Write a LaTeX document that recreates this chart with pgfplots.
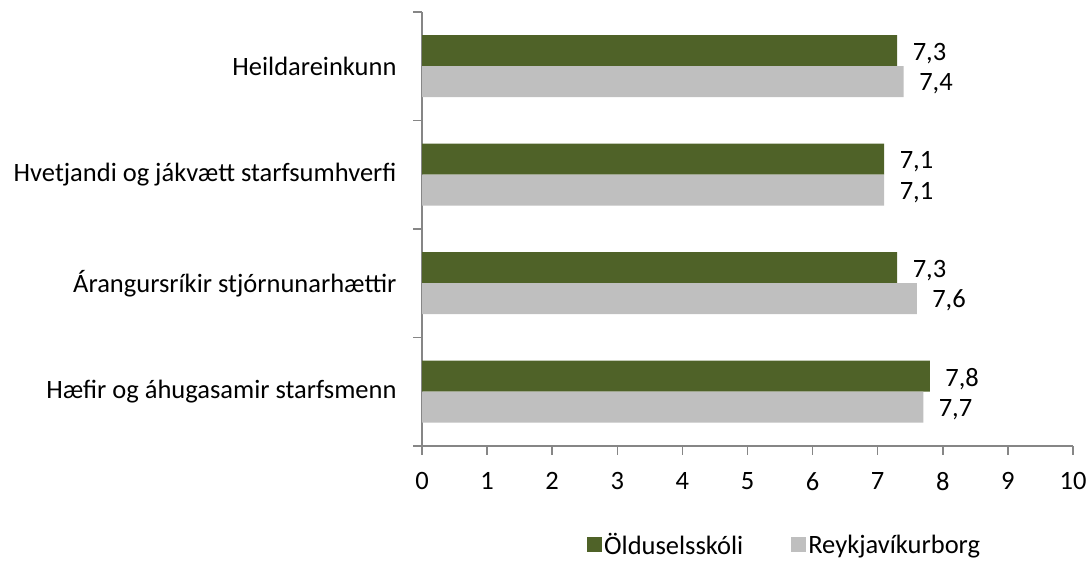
\documentclass[border=0pt]{standalone}
\usepackage{pgfplots}
\pgfplotsset{compat=1.18}
\usepackage{fontspec}
\setmainfont{Carlito}
\definecolor{grn}{HTML}{4F6228}
\definecolor{gry}{HTML}{BFBFBF}
\definecolor{axg}{HTML}{868686}
\newcommand{\cf}{\fontsize{26.5}{32}\selectfont}
\begin{document}
\begin{tikzpicture}
\useasboundingbox (0,0) rectangle (1091pt,561pt);
\begin{axis}[at={(422pt,115pt)}, anchor=south west, scale only axis,
  width=651pt, height=434pt,
  xmin=0, xmax=10, ymin=-0.5, ymax=3.5,
  xtick={0,1,...,10},
  ytick={-0.5,0.5,1.5,2.5,3.5}, yticklabels={},
  extra y ticks={0,1,2,3},
  extra y tick labels={Hæfir og áhugasamir starfsmenn, Árangursríkir stjórnunarhættir, Hvetjandi og jákvætt starfsumhverfi, Heildareinkunn},
  extra y tick style={major tick length=0pt, tick style={draw=none}, yticklabel style={xshift=-22pt}},
  axis lines*=left,
  axis line style={axg, line width=1.5pt},
  tick align=outside, major tick length=9pt,
  tick style={axg, line width=1.5pt},
  /pgf/number format/assume math mode=true,
  tick label style={font=\cf, black},
  xticklabel style={yshift=-14pt},
  point meta=x,
  nodes near coords={\pgfmathprintnumber[fixed,precision=1,fixed zerofill,use comma,assume math mode=true]{\pgfplotspointmeta}},
  nodes near coords style={font=\cf, black, xshift=12pt},
  legend style={at={(0.557,-0.228)}, anchor=center, draw=none, font=\cf,
    legend columns=2, /tikz/every even column/.append style={column sep=46pt}},
  legend image code/.code={\fill[#1] (0pt,-7.5pt) rectangle (15pt,7.5pt);},
]
\addplot[xbar, bar width=31pt, bar shift=15.5pt, fill=grn, draw=none, point meta=x,
  nodes near coords style={yshift=13pt}]
  coordinates {(7.8,0) (7.3,1) (7.1,2) (7.3,3)};
\addlegendentry{Ölduselsskóli}
\addplot[xbar, bar width=31pt, bar shift=-15.5pt, fill=gry, draw=none, point meta=x,
  nodes near coords style={yshift=-17.5pt}]
  coordinates {(7.7,0) (7.6,1) (7.1,2) (7.4,3)};
\addlegendentry{Reykjavíkurborg}
\end{axis}
\end{tikzpicture}
\end{document}
